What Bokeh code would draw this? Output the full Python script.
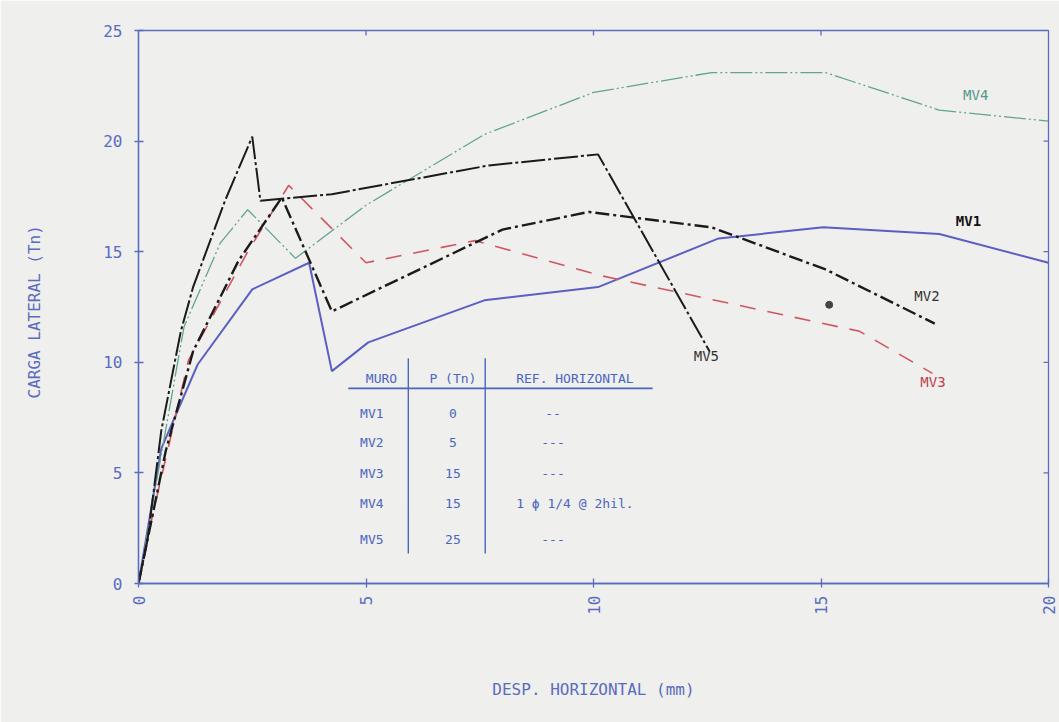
import math
from bokeh.plotting import figure
from bokeh.models import Range1d, FixedTicker
from bokeh.embed import file_html
from bokeh.resources import INLINE
from bokeh.core.properties import value

# ---- data ----
mv1_x = [0, 0.5, 1.3, 2.5, 3.75, 4.25, 5.05, 7.6, 10.1, 12.75, 15.05, 17.6, 20.0]
mv1_y = [0, 6.1, 9.9, 13.3, 14.5, 9.6, 10.9, 12.8, 13.4, 15.6, 16.1, 15.8, 14.5]

mv2_x = [0, 0.25, 0.6, 1.2, 2.2, 3.15, 4.25, 8.0, 9.9, 12.6, 15.1, 17.5]
mv2_y = [0, 2.5, 6.0, 10.5, 14.6, 17.45, 12.3, 16.0, 16.8, 16.1, 14.2, 11.75]

mv3_x = [0, 0.3, 1.1, 2.4, 3.3, 5.0, 7.4, 10.2, 15.85, 17.45]
mv3_y = [0, 3.0, 10.1, 15.0, 18.0, 14.5, 15.5, 13.9, 11.4, 9.5]

mv4_x = [0, 0.3, 1.0, 1.8, 2.4, 3.45, 5.0, 7.6, 10.0, 12.6, 15.1, 17.6, 20.0]
mv4_y = [0, 3.5, 11.6, 15.4, 16.9, 14.7, 17.1, 20.3, 22.2, 23.1, 23.1, 21.4, 20.9]

mv5_x = [0, 0.2, 0.5, 0.93, 1.2, 1.9, 2.5, 2.68, 4.25, 7.7, 10.1, 12.55]
mv5_y = [0, 2.0, 6.9, 11.4, 13.4, 17.3, 20.2, 17.3, 17.6, 18.9, 19.4, 10.5]

curve_labels = ["MV4", "MV1", "MV2", "MV3", "MV5"]
curve_label_x = [18.4, 18.24, 17.33, 17.46, 12.48]
curve_label_y = [22.1, 16.4, 13.0, 9.1, 10.3]

stray_dot_x = [15.18]
stray_dot_y = [12.6]

x_ticks = [0, 5, 10, 15, 20]
y_ticks = [0, 5, 10, 15, 20, 25]
top_ticks = [5, 10, 15]
right_ticks = [5, 10, 15, 20]

# legend table
table_header = ["MURO", "P (Tn)", "REF. HORIZONTAL"]
table_muro = ["MV1", "MV2", "MV3", "MV4", "MV5"]
table_p = ["0", "5", "15", "15", "25"]
table_ref = ["--", "---", "---", "1 \u03d5 1/4 @ 2hil.", "---"]

# ---- styles ----
AX = "#5a6cc0"
BG = "#efefed"
FONT = "DejaVu Sans Mono"

p = figure(width=1059, height=722, output_backend="svg", toolbar_location=None,
           x_range=Range1d(0, 20), y_range=Range1d(0, 25),
           min_border_left=138, min_border_right=11, min_border_top=30,
           min_border_bottom=139)
p.background_fill_color = BG
p.border_fill_color = BG
p.outline_line_color = AX
p.outline_line_width = 1.3
p.grid.visible = False

for ax in (p.xaxis[0], p.yaxis[0]):
    ax.axis_line_color = AX
    ax.axis_line_width = 1.3
    ax.major_tick_line_color = AX
    ax.major_tick_line_width = 1.3
    ax.major_tick_in = 5
    ax.major_tick_out = 4
    ax.minor_tick_line_color = None
    ax.major_label_text_color = AX
    ax.major_label_text_font = FONT
    ax.major_label_text_font_size = "16px"
    ax.axis_label_text_color = AX
    ax.axis_label_text_font = FONT
    ax.axis_label_text_font_size = "16px"
    ax.axis_label_text_font_style = "normal"

p.xaxis[0].ticker = FixedTicker(ticks=x_ticks)
p.yaxis[0].ticker = FixedTicker(ticks=y_ticks)
p.xaxis[0].major_label_orientation = math.pi / 2
p.xaxis[0].major_label_standoff = 8
p.yaxis[0].major_label_standoff = 12
p.xaxis[0].axis_label = "DESP. HORIZONTAL (mm)"
p.yaxis[0].axis_label = "CARGA  LATERAL (Tn)"
p.xaxis[0].axis_label_standoff = 62
p.yaxis[0].axis_label_standoff = 56

# small inner tick marks on the top and right edges of the frame
tx = 5.0 / 45.6
ty = 5.0 / 22.1
p.segment(x0=top_ticks, y0=[25] * len(top_ticks), x1=top_ticks,
          y1=[25 - ty] * len(top_ticks), line_color=AX, line_width=1.3)
p.segment(x0=[20] * len(right_ticks), y0=right_ticks, x1=[20 - tx] * len(right_ticks),
          y1=right_ticks, line_color=AX, line_width=1.3)

# ---- curves ----
p.line(mv1_x, mv1_y, line_color="#5a5fc2", line_width=2.0)
p.line(mv3_x, mv3_y, line_color="#d25562", line_width=1.6, line_dash="16 12")
p.line(mv4_x, mv4_y, line_color="#62a392", line_width=1.3, line_dash="22 3 2 3 2 3")
p.line(mv2_x, mv2_y, line_color="#1b1b1b", line_width=2.4, line_dash="14 4 3 4")
p.line(mv5_x, mv5_y, line_color="#1b1b1b", line_width=2.0, line_dash="24 3 3 3")

p.scatter(stray_dot_x, stray_dot_y, size=7, color="#444444")

label_colors = ["#4f9a88", "#111111", "#333333", "#c0404f", "#333333"]
label_styles = ["normal", "bold", "normal", "normal", "normal"]
for t, x, y, c, s in zip(curve_labels, curve_label_x, curve_label_y, label_colors, label_styles):
    p.text([x], [y], text=[t], text_color=c, text_font=value(FONT), text_font_size="14px",
           text_font_style=s, text_align="center", text_baseline="middle")

# ---- legend table ----
TB = "#4c66bf"
p.segment(x0=[4.61], y0=[8.82], x1=[11.30], y1=[8.82], line_color=TB, line_width=1.6)
p.segment(x0=[5.93, 7.62], y0=[10.18, 10.18], x1=[5.93, 7.62], y1=[1.36, 1.36],
          line_color=TB, line_width=1.4)
p.text([5.34, 6.91, 9.59], [9.28] * 3, text=table_header, text_color=TB, text_font=value(FONT),
       text_font_size="13px", text_align="center", text_baseline="middle")
row_y = [7.69, 6.38, 4.98, 3.62, 1.99]
p.text([4.87] * 5, row_y, text=table_muro, text_color=TB, text_font=value(FONT),
       text_font_size="13px", text_align="left", text_baseline="middle")
p.text([6.91] * 5, row_y, text=table_p, text_color=TB, text_font=value(FONT),
       text_font_size="13px", text_align="center", text_baseline="middle")
p.text([9.11, 9.11, 9.11, 9.59, 9.11], row_y, text=table_ref, text_color=TB, text_font=value(FONT),
       text_font_size="13px", text_align="center", text_baseline="middle")

open("out.html", "w").write(file_html(p, INLINE))
